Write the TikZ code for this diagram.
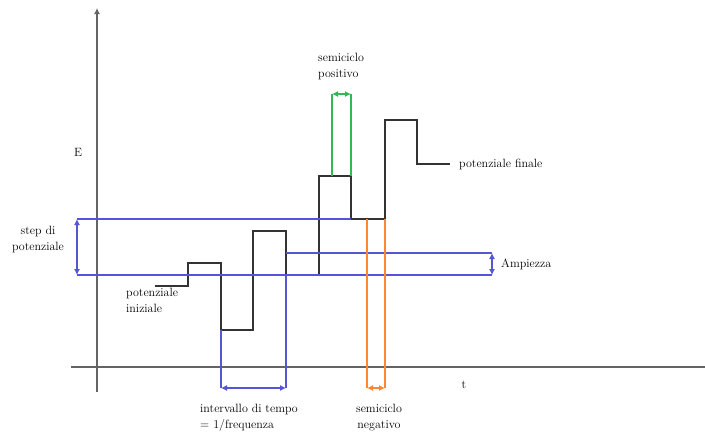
\documentclass[tikz,border=0pt]{standalone}
\usetikzlibrary{arrows.meta, positioning}

\definecolor{axisgray}{RGB}{100,100,100}
\definecolor{stepblue}{RGB}{85,85,215}
\definecolor{halfgreen}{RGB}{50,185,85}
\definecolor{halforange}{RGB}{255,135,50}

\begin{document}
\begin{tikzpicture}[
    x=1pt, y=-1pt,
    axisstyle/.style={draw=axisgray, line width=1.5pt},
    wavestyle/.style={draw=black!80, line width=1.2pt},
    guidestyle/.style={line width=1.1pt},
    arrowstyle/.style={{Latex[length=6pt,width=6pt]}-{Latex[length=6pt,width=6pt]}, line width=1.1pt},
    labelstyle/.style={font=\fontsize{12}{16}\selectfont, inner sep=0pt, align=left}
]
\useasboundingbox (0,0) rectangle (705,432);

% Axes
\coordinate (ybot) at (97,392);
\coordinate (ytop) at (97,8);
\coordinate (xleft) at (71,367);
\coordinate (xright) at (705,367);
\draw[axisstyle, -{Latex[length=6pt,width=6pt]}] (ybot) -- (ytop);
\draw[axisstyle] (xleft) -- (xright);
\node[labelstyle] (labelE) at (78,152) {E};
\node[labelstyle] (labelt) at (464,385) {t};

% Potential steps
\coordinate (w0) at (155,286);
\coordinate (w1) at (188,263);
\coordinate (w2) at (221,330);
\coordinate (w3) at (253,231);
\coordinate (w4) at (286,275);
\coordinate (w5) at (319,176);
\coordinate (w6) at (351,219);
\coordinate (w7) at (385,120);
\coordinate (w8) at (417,164);
\coordinate (w9) at (450,164);
\draw[wavestyle] (w0) -| (w1) -| (w2) -| (w3) -| (w4) -| (w5) -| (w6) -| (w7) -| (w8) -- (w9);

% Step and amplitude guides
\coordinate (stepT) at (77,219);
\coordinate (stepB) at (77,275);
\coordinate (ampT) at (492,253);
\coordinate (ampB) at (492,275);
\coordinate (ampM) at (492,264);
\draw[guidestyle, stepblue] (stepT) -- (w6);
\draw[guidestyle, stepblue] (stepB) -- (ampB);
\draw[guidestyle, stepblue] (286,253) -- (ampT);
\draw[arrowstyle, stepblue] (stepT) -- (stepB);
\draw[arrowstyle, stepblue] (ampT) -- (ampB);

% Time interval
\coordinate (intL) at (221,388);
\coordinate (intR) at (286,388);
\draw[guidestyle, stepblue] (221,330) -- (intL);
\draw[guidestyle, stepblue] (w4) -- (intR);
\draw[arrowstyle, stepblue] (intL) -- (intR);

% Positive half cycle
\coordinate (posL) at (332,94);
\coordinate (posR) at (351,94);
\draw[guidestyle, halfgreen] (332,176) -- (posL);
\draw[guidestyle, halfgreen] (351,176) -- (posR);
\draw[arrowstyle, halfgreen] (posL) -- (posR);

% Negative half cycle
\coordinate (negL) at (367,388);
\coordinate (negR) at (385,388);
\draw[guidestyle, halforange] (367,219) -- (negL);
\draw[guidestyle, halforange] (385,219) -- (negR);
\draw[arrowstyle, halforange] (negL) -- (negR);

% Labels
\node[labelstyle, right=9pt of w9] (labelFinal) {potenziale finale};
\node[labelstyle, right=9pt of ampM] (labelAmp) {Ampiezza};
\node[labelstyle, align=center, anchor=north] (labelStep) at (38,226) {step di\\potenziale};
\node[labelstyle, anchor=north west] (labelInit) at (126,288) {potenziale\\iniziale};
\node[labelstyle, anchor=north west] (labelPos) at (318,53) {semiciclo\\positivo};
\node[labelstyle, anchor=north west] (labelInt) at (200,404) {intervallo di tempo\\= 1/frequenza};
\node[labelstyle, align=center, anchor=north] (labelNeg) at (379,404) {semiciclo\\negativo};

\end{tikzpicture}
\end{document}
